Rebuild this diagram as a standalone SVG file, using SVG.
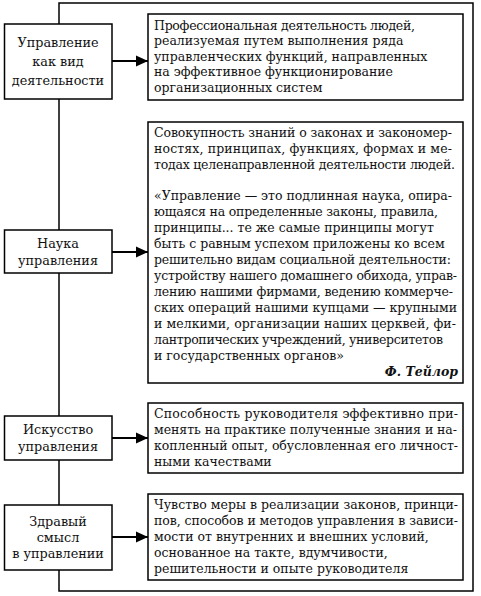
<svg xmlns="http://www.w3.org/2000/svg" width="481" height="596" viewBox="0 0 481 596">
<defs>
<marker id="ah" viewBox="0 0 12 12" refX="12" refY="6" markerWidth="12" markerHeight="12" markerUnits="userSpaceOnUse" orient="auto">
<path d="M0,0.5 L12,6 L0,11.5 Z" fill="#000"/>
</marker>
<style>
.box{fill:#fff;stroke:#000;stroke-width:1.5}
.t{font-family:'DejaVu Serif',serif;font-size:12.5px;fill:#111}
.l{font-family:'DejaVu Serif',serif;font-size:12.8px;fill:#111;text-anchor:middle}
.c{fill:none;stroke:#000;stroke-width:1.5}
.a{fill:none;stroke:#000;stroke-width:2.2;marker-end:url(#ah)}
</style>
</defs>
<rect width="481" height="596" fill="#fff"/>
<g id="connectors">
<path class="c" d="M59,24 V3 H473 V591 H59 V570"/>
<path class="c" d="M59,99 V230"/>
<path class="c" d="M59,273 V416"/>
<path class="c" d="M59,460 V505"/>
<path class="a" d="M112,61 H148"/>
<path class="a" d="M112,252 H148"/>
<path class="a" d="M112,438 H148"/>
<path class="a" d="M112,537 H148"/>
</g>
<g id="n1">
<rect class="box" x="4.5" y="24" width="107.5" height="75"/>
<text class="l" x="58" y="47">Управление</text>
<text class="l" x="58" y="66">как вид</text>
<text class="l" x="58" y="85">деятельности</text>
</g>
<g id="n2">
<rect class="box" x="4.5" y="230" width="107.5" height="43"/>
<text class="l" x="58" y="248">Наука</text>
<text class="l" x="58" y="265">управления</text>
</g>
<g id="n3">
<rect class="box" x="4.5" y="416" width="107.5" height="44"/>
<text class="l" x="58" y="434">Искусство</text>
<text class="l" x="58" y="451">управления</text>
</g>
<g id="n4">
<rect class="box" x="4.5" y="505" width="107.5" height="65"/>
<text class="l" x="58" y="526">Здравый</text>
<text class="l" x="58" y="542">смысл</text>
<text class="l" x="58" y="558">в управлении</text>
</g>
<g id="d1">
<rect class="box" x="148" y="14" width="315" height="86"/>
<text class="t" x="154" y="29.5" textLength="261" lengthAdjust="spacing">Профессиональная деятельность людей,</text>
<text class="t" x="154" y="45">реализуемая путем выполнения ряда</text>
<text class="t" x="154" y="60.5">управленческих функций, направленных</text>
<text class="t" x="154" y="76">на эффективное функционирование</text>
<text class="t" x="154" y="91.5">организационных систем</text>
</g>
<g id="d2">
<rect class="box" x="148" y="122" width="315" height="261"/>
<text class="t" x="154" y="137" textLength="298" lengthAdjust="spacing">Совокупность знаний о законах и закономер-</text>
<text class="t" x="154" y="153" textLength="298" lengthAdjust="spacing">ностях, принципах, функциях, формах и ме-</text>
<text class="t" x="154" y="169" textLength="301" lengthAdjust="spacing">тодах целенаправленной деятельности людей.</text>
<text class="t" x="154" y="200" textLength="298" lengthAdjust="spacing">«Управление — это подлинная наука, опира-</text>
<text class="t" x="154" y="216" textLength="284" lengthAdjust="spacing">ющаяся на определенные законы, правила,</text>
<text class="t" x="154" y="232">принципы... те же самые принципы могут</text>
<text class="t" x="154" y="248">быть с равным успехом приложены ко всем</text>
<text class="t" x="154" y="264" textLength="297" lengthAdjust="spacing">решительно видам социальной деятельности:</text>
<text class="t" x="154" y="280" textLength="303" lengthAdjust="spacing">устройству нашего домашнего обихода, управ-</text>
<text class="t" x="154" y="296" textLength="299" lengthAdjust="spacing">лению нашими фирмами, ведению коммерче-</text>
<text class="t" x="154" y="312" textLength="303" lengthAdjust="spacing">ских операций нашими купцами — крупными</text>
<text class="t" x="154" y="328" textLength="302" lengthAdjust="spacing">и мелкими, организации наших церквей, фи-</text>
<text class="t" x="154" y="344" textLength="289" lengthAdjust="spacing">лантропических учреждений, университетов</text>
<text class="t" x="154" y="360">и государственных органов»</text>
<text class="t" x="458" y="376" text-anchor="end" font-style="italic" font-weight="bold">Ф. Тейлор</text>
</g>
<g id="d3">
<rect class="box" x="148" y="403" width="315" height="70"/>
<text class="t" x="154" y="418" textLength="304" lengthAdjust="spacing">Способность руководителя эффективно при-</text>
<text class="t" x="154" y="434" textLength="303" lengthAdjust="spacing">менять на практике полученные знания и на-</text>
<text class="t" x="154" y="450" textLength="304" lengthAdjust="spacing">копленный опыт, обусловленная его личност-</text>
<text class="t" x="154" y="466">ными качествами</text>
</g>
<g id="d4">
<rect class="box" x="148" y="494" width="315" height="86"/>
<text class="t" x="154" y="509" textLength="304" lengthAdjust="spacing">Чувство меры в реализации законов, принци-</text>
<text class="t" x="154" y="525" textLength="304" lengthAdjust="spacing">пов, способов и методов управления в зависи-</text>
<text class="t" x="154" y="541">мости от внутренних и внешних условий,</text>
<text class="t" x="154" y="557">основанное на такте, вдумчивости,</text>
<text class="t" x="154" y="573">решительности и опыте руководителя</text>
</g>
</svg>
